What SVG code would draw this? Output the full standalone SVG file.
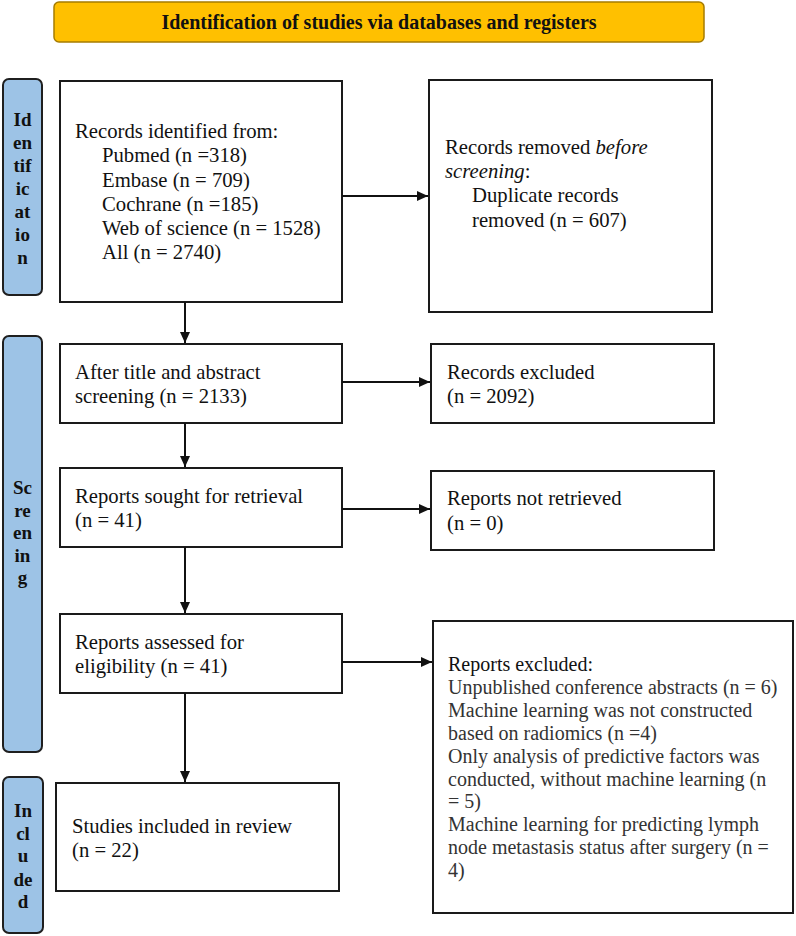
<svg xmlns="http://www.w3.org/2000/svg" width="796" height="936" viewBox="0 0 796 936">
<defs>
<style>
.box{fill:#fff;stroke:#1a1a1a;stroke-width:2}
.side{fill:#9DC3E6;stroke:#1f1f1f;stroke-width:2}
.hdr{fill:#FFC000;stroke:#A67C00;stroke-width:1.5}
.t{font-family:"Liberation Serif","Times New Roman",serif;font-size:20.7px;fill:#111}
.s{font-size:20px}
.g{fill:#333}
.b{font-family:"Liberation Serif","Times New Roman",serif;font-weight:bold;font-size:19px;fill:#111;text-anchor:middle}
.h{font-family:"Liberation Serif","Times New Roman",serif;font-weight:bold;font-size:20px;fill:#111;text-anchor:middle}
.c{stroke:#111;stroke-width:2;fill:none;marker-end:url(#ah)}
</style>
<marker id="ah" markerUnits="userSpaceOnUse" markerWidth="12" markerHeight="10" refX="11" refY="5" orient="auto">
<path d="M0,0 L11,5 L0,10 Z" fill="#111"/>
</marker>
</defs>
<rect width="796" height="936" fill="#fff"/>

<g id="header">
<rect class="hdr" x="54" y="2" width="650" height="40" rx="5"/>
<text class="h" x="379" y="29">Identification of studies via databases and registers</text>
</g>

<g id="side-identification">
<rect class="side" x="3" y="79" width="39" height="216" rx="6"/>
<text class="b" x="22.5" y="126">Id</text>
<text class="b" x="22.5" y="149">en</text>
<text class="b" x="22.5" y="172">tif</text>
<text class="b" x="22.5" y="195">ic</text>
<text class="b" x="22.5" y="218">at</text>
<text class="b" x="22.5" y="241">io</text>
<text class="b" x="22.5" y="264">n</text>
</g>

<g id="side-screening">
<rect class="side" x="3" y="336" width="39" height="416" rx="6"/>
<text class="b" x="22.5" y="494">Sc</text>
<text class="b" x="22.5" y="517">re</text>
<text class="b" x="22.5" y="539">en</text>
<text class="b" x="22.5" y="562">in</text>
<text class="b" x="22.5" y="584">g</text>
</g>

<g id="side-included">
<rect class="side" x="3" y="777" width="40" height="156" rx="6"/>
<text class="b" x="23" y="817">In</text>
<text class="b" x="23" y="840">cl</text>
<text class="b" x="23" y="862">u</text>
<text class="b" x="23" y="886">de</text>
<text class="b" x="23" y="908">d</text>
</g>

<g id="records-identified">
<rect class="box" x="60" y="81" width="282" height="221"/>
<text class="t" x="75" y="138">Records identified from:</text>
<text class="t" x="102" y="162">Pubmed (n =318)</text>
<text class="t" x="102" y="186.5">Embase (n = 709)</text>
<text class="t" x="102" y="211">Cochrane (n =185)</text>
<text class="t" x="102" y="235">Web of science (n = 1528)</text>
<text class="t" x="102" y="259">All (n = 2740)</text>
</g>

<g id="records-removed">
<rect class="box" x="429" y="80" width="283" height="232"/>
<text class="t" x="445" y="154">Records removed <tspan font-style="italic">before</tspan></text>
<text class="t" x="445" y="178"><tspan font-style="italic">screening</tspan>:</text>
<text class="t" x="472" y="202">Duplicate records</text>
<text class="t" x="472" y="227">removed (n = 607)</text>
</g>

<g id="after-screening">
<rect class="box" x="60" y="344" width="282" height="79"/>
<text class="t" x="75" y="379">After title and abstract</text>
<text class="t" x="75" y="403">screening (n = 2133)</text>
</g>

<g id="records-excluded">
<rect class="box" x="431" y="344" width="283" height="79"/>
<text class="t" x="447" y="379">Records excluded</text>
<text class="t" x="447" y="403">(n = 2092)</text>
</g>

<g id="reports-sought">
<rect class="box" x="60" y="468" width="282" height="79"/>
<text class="t" x="75" y="503">Reports sought for retrieval</text>
<text class="t" x="75" y="527">(n = 41)</text>
</g>

<g id="reports-not-retrieved">
<rect class="box" x="431" y="471" width="283" height="79"/>
<text class="t" x="447" y="505">Reports not retrieved</text>
<text class="t" x="447" y="530">(n = 0)</text>
</g>

<g id="reports-assessed">
<rect class="box" x="60" y="614" width="282" height="79"/>
<text class="t" x="75" y="649">Reports assessed for</text>
<text class="t" x="75" y="673">eligibility (n = 41)</text>
</g>

<g id="reports-excluded">
<rect class="box" x="433" y="621" width="360" height="292"/>
<text class="t s" x="448" y="671">Reports excluded:</text>
<text class="t s g" x="448" y="694">Unpublished conference abstracts (n = 6)</text>
<text class="t s g" x="448" y="717">Machine learning was not constructed</text>
<text class="t s g" x="448" y="740">based on radiomics (n =4)</text>
<text class="t s g" x="448" y="763">Only analysis of predictive factors was</text>
<text class="t s g" x="448" y="786">conducted, without machine learning (n</text>
<text class="t s g" x="448" y="808">= 5)</text>
<text class="t s g" x="448" y="831">Machine learning for predicting lymph</text>
<text class="t s g" x="448" y="854">node metastasis status after surgery (n =</text>
<text class="t s g" x="448" y="877">4)</text>
</g>

<g id="studies-included">
<rect class="box" x="56" y="783" width="283" height="108"/>
<text class="t" x="72" y="833">Studies included in review</text>
<text class="t" x="72" y="857">(n = 22)</text>
</g>

<g id="connectors">
<path class="c" d="M342,196 H428"/>
<path class="c" d="M185,302 V343"/>
<path class="c" d="M342,382 H430"/>
<path class="c" d="M185,423 V467"/>
<path class="c" d="M342,509 H430"/>
<path class="c" d="M185,547 V613"/>
<path class="c" d="M342,662 H432"/>
<path class="c" d="M185,693 V782"/>
</g>
</svg>
